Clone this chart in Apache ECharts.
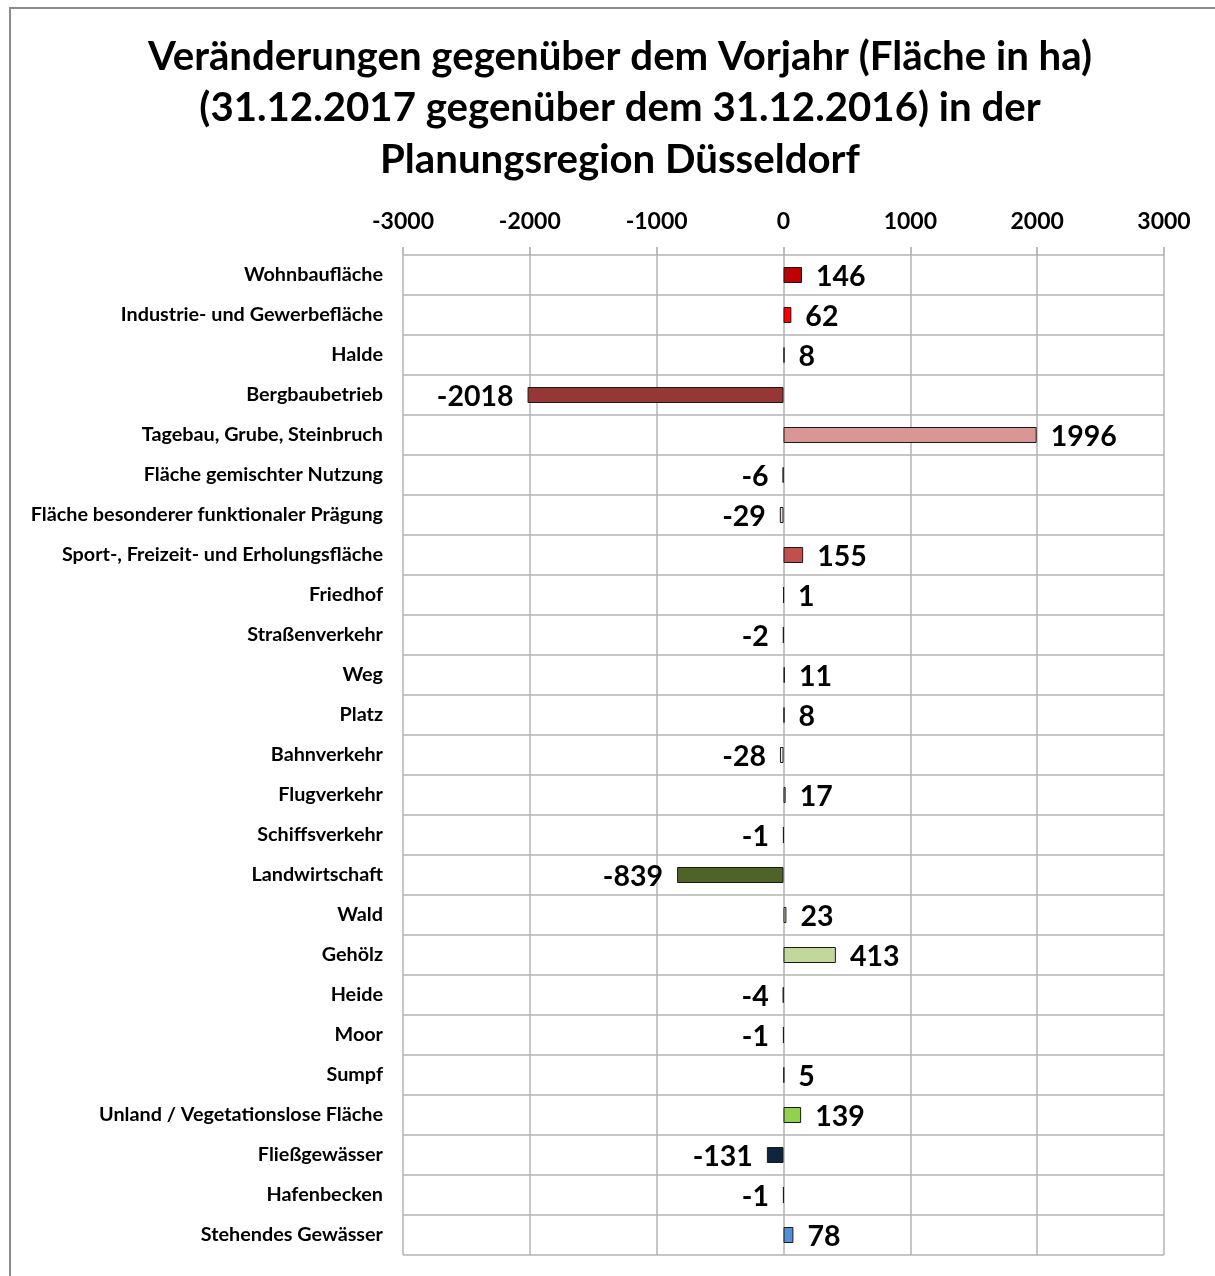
<!DOCTYPE html>
<html><head><meta charset="utf-8">
<script src="https://cdn.jsdelivr.net/npm/echarts@6/dist/echarts.min.js"></script>
<style>html,body{margin:0;padding:0;background:#fff}#c{width:1215px;height:1276px}</style>
</head><body><div id="c"></div>
<script>
const categories = ["Wohnbaufläche","Industrie- und Gewerbefläche","Halde","Bergbaubetrieb","Tagebau, Grube, Steinbruch","Fläche gemischter Nutzung","Fläche besonderer funktionaler Prägung","Sport-, Freizeit- und Erholungsfläche","Friedhof","Straßenverkehr","Weg","Platz","Bahnverkehr","Flugverkehr","Schiffsverkehr","Landwirtschaft","Wald","Gehölz","Heide","Moor","Sumpf","Unland / Vegetationslose Fläche","Fließgewässer","Hafenbecken","Stehendes Gewässer"];
const values = [146,62,8,-2018,1996,-6,-29,155,1,-2,11,8,-28,17,-1,-839,23,413,-4,-1,5,139,-131,-1,78];
const barColors = ["#C00000","#FF0000","#7F7F7F","#953735","#D99694","#E6B9B8","#F2DCDB","#C0504D","#595959","#A6A6A6","#7F7F7F","#595959","#F2F2F2","#D9D9D9","#BFBFBF","#4F6228","#D7E4BD","#C3D69B","#9BBB59","#77933C","#EBF1DE","#92D050","#0F243E","#1F497D","#558ED5"];
const xTicks = [-3000,-2000,-1000,0,1000,2000,3000];
const titleLines = ["Veränderungen gegenüber dem Vorjahr (Fläche in ha)","(31.12.2017 gegenüber dem 31.12.2016) in der","Planungsregion Düsseldorf"];

const FONT = "Lato, 'Open Sans', sans-serif";
const chart = echarts.init(document.getElementById('c'));
chart.setOption({
  animation:false,
  backgroundColor:'#fff',
  title:{text:titleLines.join('\n'),left:615,textAlign:'center',top:26,
    textStyle:{fontFamily:FONT,fontWeight:'bold',fontSize:40.2,color:'#000',lineHeight:51.5}},
  graphic:[{type:'rect',shape:{x:10,y:8,width:1300,height:1400},style:{fill:'none',stroke:'#8c8c8c',lineWidth:2},silent:true}],
  grid:{left:403,right:51,top:255,bottom:21,containLabel:false},
  xAxis:{type:'value',position:'top',min:-3000,max:3000,interval:1000,
    axisLine:{show:false},
    axisTick:{show:true,length:8,lineStyle:{color:'#a6a6a6',width:1.5}},
    splitLine:{show:true,lineStyle:{color:'#b3b3b3',width:1.5}},
    axisLabel:{margin:22,fontFamily:FONT,fontWeight:'bold',fontSize:23,color:'#000',
      formatter:v=>xTicks.includes(v)?String(v):''}},
  yAxis:{type:'category',inverse:true,data:categories,
    axisLine:{show:false},axisTick:{show:false},
    splitLine:{show:true,lineStyle:{color:'#b3b3b3',width:1.5}},
    axisLabel:{margin:20,fontFamily:FONT,fontWeight:'bold',fontSize:19.8,color:'#000',padding:[2,0,0,0]}},
  series:[{type:'bar',barWidth:16,
    data:values.map((v,i)=>({value:v,itemStyle:{color:barColors[i],borderColor:'#1a1a1a',borderWidth:1},
      label:{show:true,position:v>=0?'right':'left',distance:14,offset:[0,2],formatter:String(v),
        fontFamily:FONT,fontWeight:'bold',fontSize:28.5,color:'#000'}}))
  }]
});
</script></body></html>
